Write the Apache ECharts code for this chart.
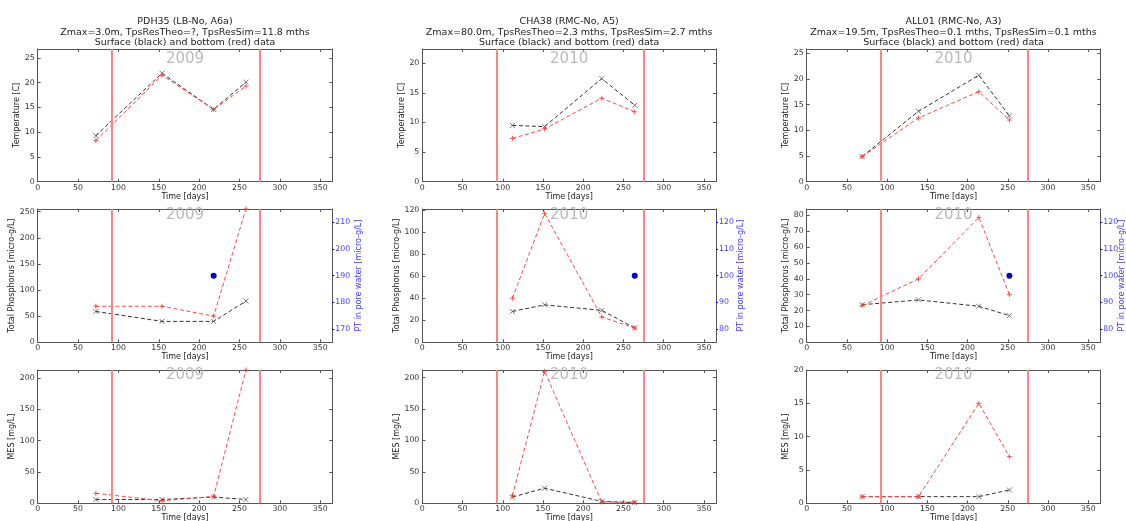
<!DOCTYPE html>
<html>
<head>
<meta charset="utf-8">
<title>Surface and bottom data</title>
<script src="https://cdn.jsdelivr.net/npm/echarts@6/dist/echarts.min.js"></script>
<style>
  html, body { margin: 0; padding: 0; background: #fff; }
  #chart { width: 1126px; height: 521px; }
</style>
</head>
<body>
<div id="chart"></div>
<script>
// values (day of year, value)
const seasonBounds = [92, 275]
const timeTicks = [0, 50, 100, 150, 200, 250, 300, 350]

const daysPDH35 = [72, 154, 218, 258]
const tempSurfPDH35 = [9.3, 21.9, 14.6, 20.1]
const tempBotPDH35 = [8.3, 21.5, 14.6, 19.3]
const tpSurfPDH35 = [59, 40, 40, 79]
const tpBotPDH35 = [69, 69, 50, 255]
const mesSurfPDH35 = [6, 6, 10, 6]
const mesBotPDH35 = [16, 4, 11, 213]
const poreDayPDH35 = [218]
const porePDH35 = [190]

const daysCHA38 = [112, 152, 223, 264]
const tempSurfCHA38 = [9.5, 9.3, 17.4, 12.9]
const tempBotCHA38 = [7.3, 8.9, 14.1, 11.8]
const tpSurfCHA38 = [28, 34, 29, 13]
const tpBotCHA38 = [40, 117, 23, 13]
const mesSurfCHA38 = [10, 24, 3, 1]
const mesBotCHA38 = [12, 210, 2, 2]
const poreDayCHA38 = [264]
const poreCHA38 = [100]

const daysALL01 = [69, 139, 214, 252]
const tempSurfALL01 = [4.9, 13.7, 20.7, 12.8]
const tempBotALL01 = [4.9, 12.4, 17.5, 12.0]
const tpSurfALL01 = [23.7, 26.7, 22.7, 16.8]
const tpBotALL01 = [23.1, 40, 78.7, 30]
const mesSurfALL01 = [1, 1, 1, 2]
const mesBotALL01 = [1, 1, 15, 7]
const poreDayALL01 = [252]
const poreALL01 = [100]

// axis extents and tick labels
const tempMax = [26.8, 22.4, 25.8]
const tpMax = [255, 121, 84]
const mesMax = [213, 212, 20]
const poreRange = [[165, 215], [75, 125], [75, 125]]
const tempTicks = [[0, 5, 10, 15, 20, 25], [0, 5, 10, 15, 20], [0, 5, 10, 15, 20, 25]]
const tpTicks = [[0, 50, 100, 150, 200, 250], [0, 20, 40, 60, 80, 100, 120], [0, 10, 20, 30, 40, 50, 60, 70, 80]]
const mesTicks = [[0, 50, 100, 150, 200], [0, 50, 100, 150, 200], [0, 5, 10, 15, 20]]
const poreTicks = [[170, 180, 190, 200, 210], [80, 90, 100, 110, 120], [80, 90, 100, 110, 120]]

const stations = [
  {
    header: ['PDH35 (LB-No, A6a)', 'Zmax=3.0m, TpsResTheo=?, TpsResSim=11.8 mths', 'Surface (black) and bottom (red) data'],
    year: '2009',
    days: daysPDH35,
    temp: [tempSurfPDH35, tempBotPDH35],
    tp: [tpSurfPDH35, tpBotPDH35],
    mes: [mesSurfPDH35, mesBotPDH35],
    pore: [poreDayPDH35, porePDH35]
  },
  {
    header: ['CHA38 (RMC-No, A5)', 'Zmax=80.0m, TpsResTheo=2.3 mths, TpsResSim=2.7 mths', 'Surface (black) and bottom (red) data'],
    year: '2010',
    days: daysCHA38,
    temp: [tempSurfCHA38, tempBotCHA38],
    tp: [tpSurfCHA38, tpBotCHA38],
    mes: [mesSurfCHA38, mesBotCHA38],
    pore: [poreDayCHA38, poreCHA38]
  },
  {
    header: ['ALL01 (RMC-No, A3)', 'Zmax=19.5m, TpsResTheo=0.1 mths, TpsResSim=0.1 mths', 'Surface (black) and bottom (red) data'],
    year: '2010',
    days: daysALL01,
    temp: [tempSurfALL01, tempBotALL01],
    tp: [tpSurfALL01, tpBotALL01],
    mes: [mesSurfALL01, mesBotALL01],
    pore: [poreDayALL01, poreALL01]
  }
]

const rows = ['temp', 'tp', 'mes']
const rowNames = ['Temperature [C]', 'Total Phosphorus [micro-g/L]', 'MES [mg/L]']
const rowMax = [tempMax, tpMax, mesMax]
const rowTicks = [tempTicks, tpTicks, mesTicks]

// layout in pixels
const gridLeft = [37.7, 422.3, 806.7]
const gridWidth = [294.6, 293.7, 293.6]
const gridTop = [49, 209, 370]
const gridHeight = [132.7, 133.3, 133.3]
const yNameGap = [[16, 15, 16], [21, 20, 17], [21, 21, 16]]
const poreNameGap = [23, 20.5, 17.5]
const yearY = [59.5, 215.5, 375.5]

const FONT = 'DejaVu Sans'
const SPINE = '#555'
const CROSS = 'path://M0,0L10,10M10,0L0,10'
const PLUS = 'path://M5,0L5,10M0,5L10,5'

function zip (xs, ys) {
  return xs.map((x, k) => [x, ys[k]])
}

const grid = []
const series = []
const graphic = []

const bottomX = []
const topX = []
const leftY = []
const rightY = []

stations.forEach((st, c) => {
  const cx = gridLeft[c] + gridWidth[c] / 2
  st.header.forEach((line, k) => {
    graphic.push({
      type: 'text', x: cx, y: 22 + k * 10.4,
      style: { text: line, font: '9.5px ' + FONT, fill: '#222', textAlign: 'center', textVerticalAlign: 'middle' }
    })
  })
  rows.forEach((row, r) => {
    const i = r * 3 + c
    grid[i] = {
      left: gridLeft[c], top: gridTop[r], width: gridWidth[c], height: gridHeight[r],
      containLabel: false, outerBoundsMode: 'none'
    }

    bottomX[i] = {
      type: 'value', gridIndex: i, min: 0, max: 365, position: 'bottom',
      name: 'Time [days]', nameLocation: 'middle', nameGap: 10,
      nameTextStyle: { fontFamily: FONT, fontSize: 8, color: '#222' },
      axisLine: { show: true, onZero: false, lineStyle: { color: SPINE } },
      axisTick: { show: true, inside: true, length: 3, customValues: timeTicks, lineStyle: { color: SPINE } },
      axisLabel: { show: true, customValues: timeTicks, fontFamily: FONT, fontSize: 7.8, color: '#333', margin: 2 },
      splitLine: { show: false }
    }
    topX[i] = {
      type: 'value', gridIndex: i, min: 0, max: 365, position: 'top',
      axisLine: { show: true, onZero: false, lineStyle: { color: SPINE } },
      axisTick: { show: true, inside: true, length: 3, customValues: timeTicks, lineStyle: { color: SPINE } },
      axisLabel: { show: false },
      splitLine: { show: false }
    }
    const ticks = rowTicks[r][c]
    leftY[i] = {
      type: 'value', gridIndex: i, min: 0, max: rowMax[r][c], position: 'left',
      name: rowNames[r], nameLocation: 'middle', nameGap: yNameGap[r][c],
      nameTextStyle: { fontFamily: FONT, fontSize: 8, color: '#222' },
      axisLine: { show: true, onZero: false, lineStyle: { color: SPINE } },
      axisTick: { show: true, inside: true, length: 3, customValues: ticks, lineStyle: { color: SPINE } },
      axisLabel: { show: true, customValues: ticks, fontFamily: FONT, fontSize: 7.8, color: '#333', margin: 3 },
      splitLine: { show: false }
    }
    if (row === 'tp') {
      rightY[i] = {
        type: 'value', gridIndex: i, min: poreRange[c][0], max: poreRange[c][1], position: 'right',
        name: 'PT in pore water [micro-g/L]', nameLocation: 'middle', nameGap: poreNameGap[c],
        nameMoveOverlap: false,
        nameTextStyle: { fontFamily: FONT, fontSize: 8, color: '#3b3bff' },
        axisLine: { show: true, onZero: false, lineStyle: { color: SPINE } },
        axisTick: { show: true, inside: false, length: 2, customValues: poreTicks[c], lineStyle: { color: '#0000ff' } },
        axisLabel: { show: true, customValues: poreTicks[c], fontFamily: FONT, fontSize: 7.8, color: '#3b3bff', margin: 3 },
        splitLine: { show: false }
      }
    } else {
      rightY[i] = {
        type: 'value', gridIndex: i, min: 0, max: rowMax[r][c], position: 'right',
        axisLine: { show: true, onZero: false, lineStyle: { color: SPINE } },
        axisTick: { show: true, inside: true, length: 3, customValues: ticks, lineStyle: { color: SPINE } },
        axisLabel: { show: false },
        splitLine: { show: false }
      }
    }

    // surface (black)
    series.push({
      type: 'line', xAxisIndex: i, yAxisIndex: i,
      data: zip(st.days, st[row][0]),
      symbol: CROSS, symbolSize: 5,
      itemStyle: { color: 'rgba(0,0,0,0)', borderColor: '#555', borderWidth: 0.8 },
      lineStyle: { color: '#333', width: 1, type: [4, 2.5] },
      z: 3,
      markLine: {
        silent: true, symbol: ['none', 'none'], label: { show: false },
        lineStyle: { color: '#ff8585', width: 2, type: 'solid' },
        data: seasonBounds.map(d => ({ xAxis: d }))
      }
    })
    // bottom (red)
    series.push({
      type: 'line', xAxisIndex: i, yAxisIndex: i,
      data: zip(st.days, st[row][1]),
      symbol: PLUS, symbolSize: 5,
      itemStyle: { color: 'rgba(0,0,0,0)', borderColor: '#ff3030', borderWidth: 0.8 },
      lineStyle: { color: '#ff4848', width: 1, type: [4, 2.5] },
      z: 4
    })
    if (row === 'tp') {
      series.push({
        type: 'scatter', xAxisIndex: i, yAxisIndex: 9 + i,
        data: zip(st.pore[0], st.pore[1]),
        symbol: 'circle', symbolSize: 6,
        itemStyle: { color: '#0000cc', opacity: 1 },
        z: 5
      })
    }

    graphic.push({
      type: 'text', x: gridLeft[c] + gridWidth[c] / 2, y: yearY[r],
      style: { text: st.year, font: '15px ' + FONT, fill: '#bbb', textAlign: 'center', textVerticalAlign: 'middle' },
      z: 10
    })
  })
})

const option = {
  animation: false,
  backgroundColor: '#fff',
  grid: grid,
  xAxis: bottomX.concat(topX),
  yAxis: leftY.concat(rightY),
  series: series,
  graphic: graphic
}

const myChart = echarts.init(document.getElementById('chart'), null, { renderer: 'canvas' })
myChart.setOption(option)
window.addEventListener('resize', () => {
  myChart.resize()
})
</script>
</body>
</html>
